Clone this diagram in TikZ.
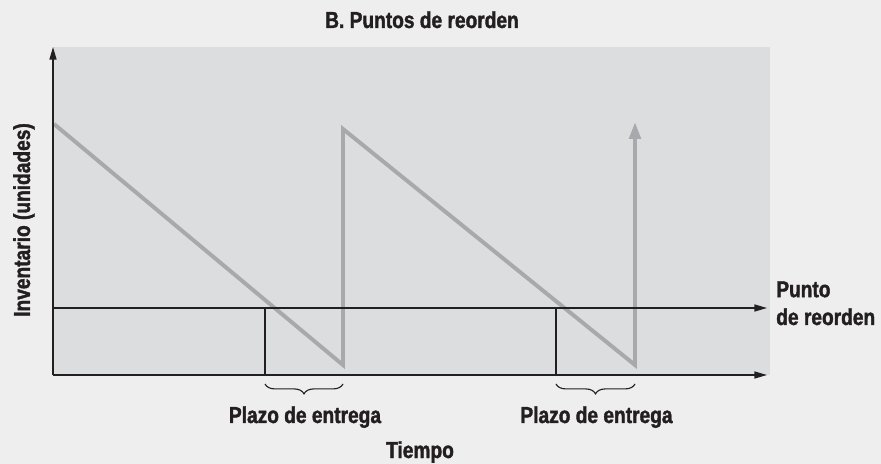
\documentclass[tikz,border=0pt]{standalone}
\usepackage{fontspec}
\setmainfont{Liberation Sans}[FakeStretch=0.83, BoldFeatures={FakeBold=1.6}]
\usepackage{xcolor}
\usepackage{tikz}
\usetikzlibrary{arrows.meta, decorations.pathreplacing}
\definecolor{pagebg}{HTML}{EEEEEE}
\definecolor{plotbg}{HTML}{DCDDDF}
\definecolor{stock}{HTML}{A7A9AC}
\definecolor{ink}{HTML}{231F20}

\begin{document}
\begin{tikzpicture}[x=0.025cm, y=-0.025cm,
    every node/.style={text=ink, inner sep=0pt, font=\bfseries\fontsize{16.4}{19.8}\selectfont},
    axis/.style={ink, line width=1pt, -{Triangle[length=9pt, width=5pt]}},
    stockline/.style={stock, line width=2.8pt},
    leadbrace/.style={ink, line width=0.8pt, decorate, decoration={brace, mirror, amplitude=7pt}}]
    % page and plot area
    \fill[pagebg] (0,0) rectangle (881,464);
    \fill[plotbg] (53,47) rectangle (770,375);
    \coordinate (orig) at (53,375);
    \coordinate (ytip) at (53,47);
    \coordinate (xtip) at (767,375);
    \coordinate (rop) at (53,308);
    \coordinate (roptip) at (767,308);
    % inventory curve
    \draw[stockline, -{Triangle[length=12pt, width=8pt]}]
        (54,124) -- (343,365) -- (343,129) -- (635,365) -- (635,122);
    % lead time markers
    \foreach \a/\b/\n in {265/343/1, 556/635/2} {
        \draw[ink, line width=0.9pt] (\a,308) -- (\a,375);
        \draw[leadbrace] (\a,384) -- (\b,384);
        \node[anchor=base] (lead\n) at ({(\a+\b)/2+1},423) {Plazo de entrega};
    }
    % axes
    \draw[axis] (orig) -- (ytip);
    \draw[axis] (orig) -- (xtip);
    \draw[axis] (rop) -- (roptip);
    \node[anchor=base] (title) at (422,28) {B. Puntos de reorden};
    \node[anchor=base] (xlabel) at (420,458) {Tiempo};
    \node[rotate=90] (ylabel) at (24,220) {Inventario (unidades)};
    \node[anchor=north west, align=left] (roplabel) at (776,281) {Punto\\de reorden};
\end{tikzpicture}
\end{document}
